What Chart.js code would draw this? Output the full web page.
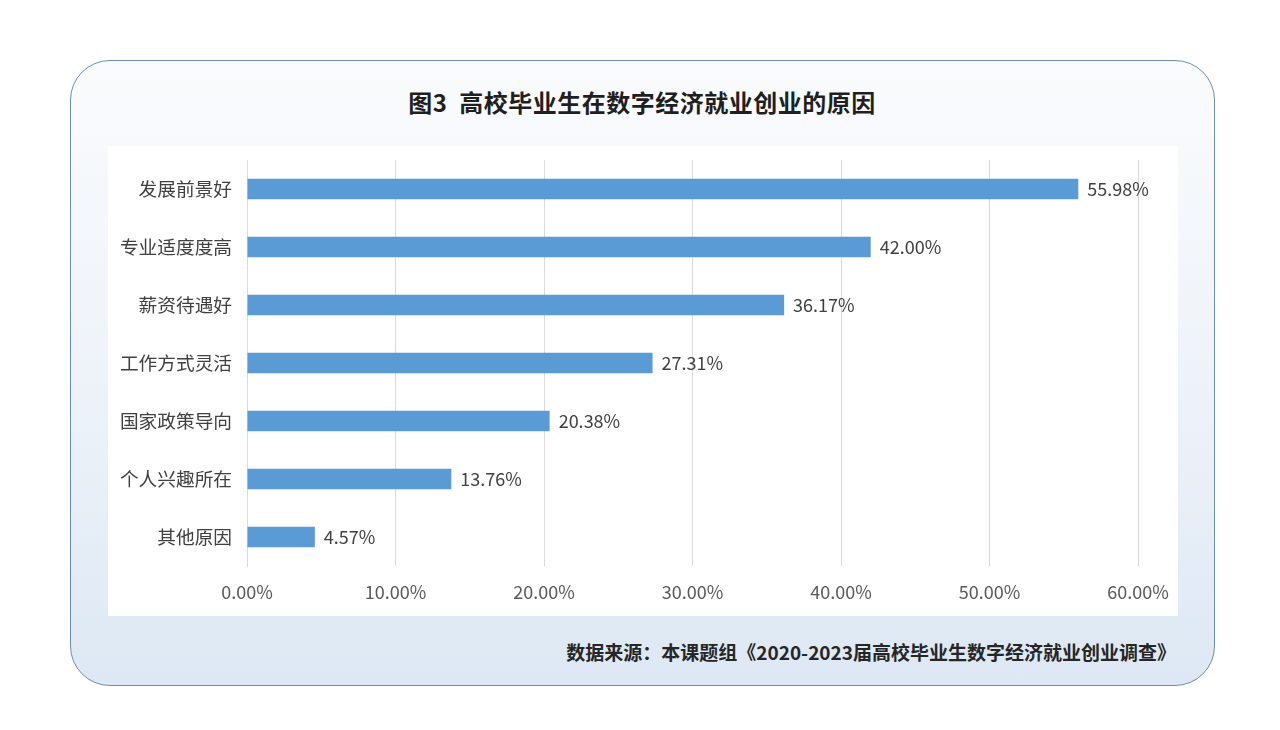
<!DOCTYPE html>
<html>
<head>
<meta charset="utf-8">
<script src="https://cdn.jsdelivr.net/npm/chart.js@4"></script>
<style>
  html, body { margin: 0; padding: 0; background: #fff; }
  body { width: 1280px; height: 730px; position: relative; font-family: "Noto Sans CJK SC", "Noto Sans", sans-serif; }
  #frame {
    position: absolute; left: 70px; top: 60px; width: 1143px; height: 624px;
    border: 1.5px solid #6c8db3; border-radius: 40px;
    background: linear-gradient(to bottom, #fafbfd 0%, #eef3f9 50%, #dde8f4 100%);
  }
  #title {
    position: absolute; left: 0; top: 84px; width: 1284px; text-align: center;
    font-size: 24px; font-weight: bold; color: #1f1f1f; letter-spacing: 0.5px;
  }
  #panel { position: absolute; left: 108px; top: 146px; width: 1070px; height: 470px; background: #fff; }
  #source {
    position: absolute; right: 104px; top: 638px;
    font-size: 19px; font-weight: bold; color: #262626;
  }
</style>
</head>
<body>
<div id="frame"></div>
<div id="title">图3&nbsp;&nbsp;高校毕业生在数字经济就业创业的原因</div>
<div id="panel"><canvas id="chart" width="1070" height="470"></canvas></div>
<div id="source">数据来源：本课题组《2020-2023届高校毕业生数字经济就业创业调查》</div>
<script>
const categories = ["发展前景好", "专业适度度高", "薪资待遇好", "工作方式灵活", "国家政策导向", "个人兴趣所在", "其他原因"];
const values = [55.98, 42.00, 36.17, 27.31, 20.38, 13.76, 4.57];
const xTicks = [0, 10, 20, 30, 40, 50, 60];

const fontFamily = '"Noto Sans CJK SC", "Noto Sans", sans-serif';

// draws the value after each bar
const valueLabels = {
  id: "valueLabels",
  afterDatasetsDraw(chart) {
    const ctx = chart.ctx;
    const meta = chart.getDatasetMeta(0);
    ctx.save();
    ctx.font = "18px " + fontFamily;
    ctx.fillStyle = "#404040";
    ctx.textAlign = "left";
    ctx.textBaseline = "middle";
    meta.data.forEach((bar, i) => {
      ctx.fillText(values[i].toFixed(2) + "%", bar.x + 9, bar.y);
    });
    ctx.restore();
  }
};

new Chart(document.getElementById("chart"), {
  type: "bar",
  data: {
    labels: categories,
    datasets: [{
      data: values,
      backgroundColor: "#5b9bd5",
      barPercentage: 0.35,
      categoryPercentage: 1
    }]
  },
  options: {
    indexAxis: "y",
    responsive: false,
    animation: false,
    layout: { padding: { top: 14, right: 40, left: 0, bottom: 0 } },
    plugins: { legend: { display: false }, tooltip: { enabled: false } },
    scales: {
      x: {
        min: xTicks[0],
        max: xTicks[xTicks.length - 1],
        afterBuildTicks(scale) { scale.ticks = xTicks.map(v => ({ value: v })); },
        afterFit(scale) {
          scale.height = 50;
          scale.paddingLeft = 0;
          scale.paddingRight = 0;
        },
        grid: { color: "#d9d9d9", drawTicks: false, lineWidth: 1 },
        border: { display: false },
        ticks: {
          padding: 15,
          color: "#595959",
          font: { family: fontFamily, size: 18 },
          callback: v => v.toFixed(2) + "%"
        }
      },
      y: {
        afterFit(scale) {
          scale.width = 139;
          scale.paddingTop = 0;
          scale.paddingBottom = 0;
        },
        grid: { display: false, drawTicks: false },
        border: { display: true, color: "#d9d9d9", width: 1 },
        ticks: {
          padding: 15,
          color: "#404040",
          font: { family: fontFamily, size: 18.7 }
        }
      }
    }
  },
  plugins: [valueLabels]
});
</script>
</body>
</html>
